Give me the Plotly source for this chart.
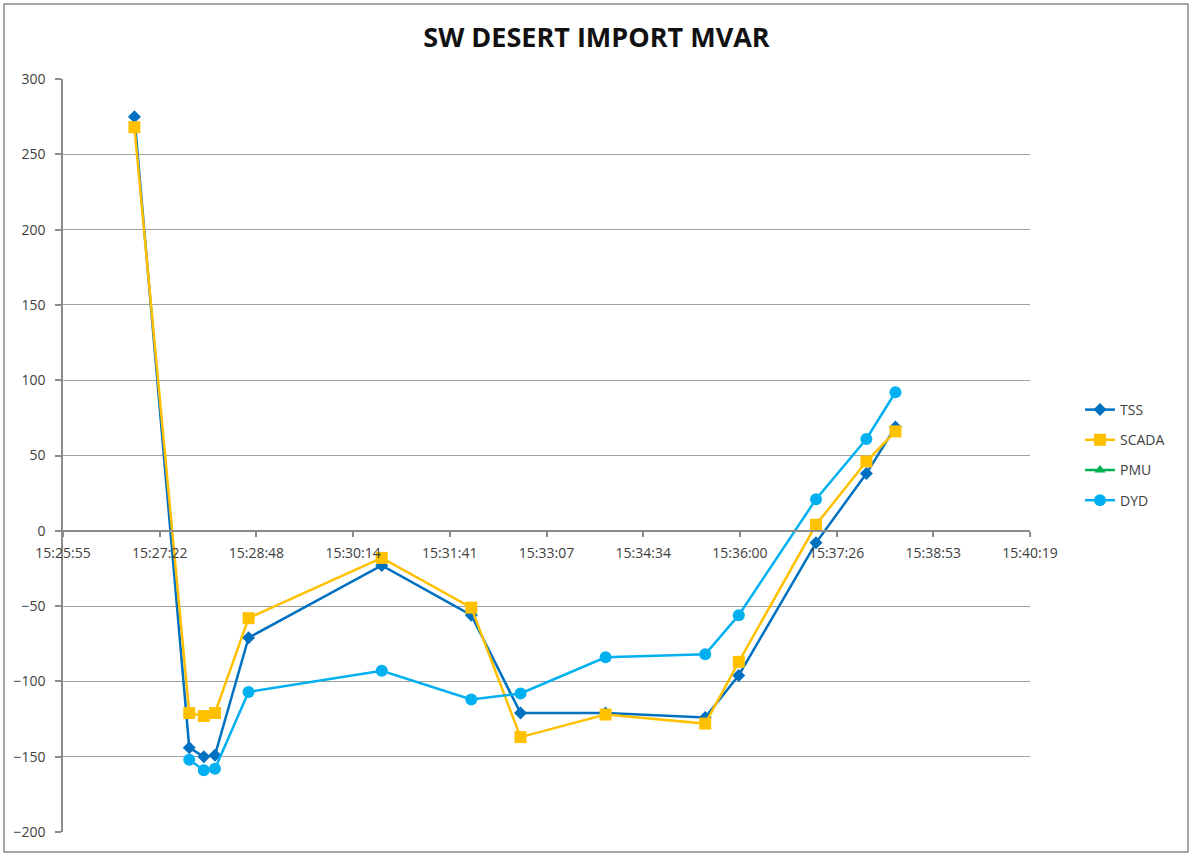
import plotly.graph_objects as go
import pandas as pd

# Sample times (hh:mm:ss) and the four MVAR series
times = ["15:26:59", "15:27:48", "15:28:01", "15:28:11", "15:28:41", "15:30:40", "15:32:00",
         "15:32:44", "15:34:00", "15:35:29", "15:35:59", "15:37:08", "15:37:53", "15:38:19"]
tss = [275, -144, -150, -149, -71, -23, -56, -121, -121, -124, -96, -8, 38, 69]
scada = [268, -121, -123, -121, -58, -18, -51, -137, -122, -128, -87, 4, 46, 66]
pmu = [None] * len(times)
dyd = [None, -152, -159, -158, -107, -93, -112, -108, -84, -82, -56, 21, 61, 92]

# Axis ticks (Excel style: 0.001-day major unit)
x_tick_labels = ["15:25:55", "15:27:22", "15:28:48", "15:30:14", "15:31:41", "15:33:07",
                 "15:34:34", "15:36:00", "15:37:26", "15:38:53", "15:40:19"]
y_ticks = [-200, -150, -100, -50, 0, 50, 100, 150, 200, 250, 300]

DAY = "2024-01-01 "
x_vals = [pd.Timestamp(DAY + t) for t in times]
axis_start = pd.Timestamp(DAY + "15:25:55.2")
step = pd.Timedelta(seconds=86.4)
tick_vals = [axis_start + k * step for k in range(len(x_tick_labels))]
x_range = [tick_vals[0], tick_vals[-1]]
y_range = [-200, 300]

FONT = "Open Sans"
GRID = "#a0a0a0"
AXIS = "#8c8c8c"
TICK_FONT = dict(family=FONT, size=14, color="#404040")

fig = go.Figure()
series = [
    ("TSS", tss, "#0070C0", "diamond", 10),
    ("SCADA", scada, "#FFC000", "square", 12),
    ("PMU", pmu, "#00B050", "triangle-up", 10),
    ("DYD", dyd, "#00B0F0", "circle", 12),
]
for name, vals, color, symbol, size in series:
    fig.add_trace(go.Scatter(
        x=x_vals, y=vals, name=name, mode="lines+markers",
        line=dict(color=color, width=2.5),
        marker=dict(symbol=symbol, size=size, color=color),
        legendgroup=name, connectgaps=False,
    ))

# Plot area in pixels
W, H = 1193, 856
L, R, T, B = 63, 1030, 79, 832

def px_x(p):
    return (p - L) / (R - L)

def px_y(p):
    return (B - p) / (B - T)

fig.update_layout(
    width=W, height=H,
    margin=dict(l=L, r=W - R, t=T, b=H - B, pad=0),
    paper_bgcolor="white", plot_bgcolor="white",
    font=dict(family=FONT, color="#404040", size=14),
    title=dict(text="<b>SW DESERT IMPORT MVAR</b>", x=0.5, xanchor="center",
               xref="container", y=1 - 38 / H, yref="container", yanchor="middle",
               font=dict(family=FONT, size=27, color="#111111")),
    showlegend=True,
    legend=dict(x=px_x(1080), xanchor="left", y=px_y(394), yanchor="top",
                traceorder="grouped", tracegroupgap=9,
                font=dict(family=FONT, size=14, color="#404040"),
                bgcolor="rgba(0,0,0,0)", itemwidth=30),
    xaxis=dict(
        type="date", range=x_range, tickmode="array", tickvals=tick_vals,
        ticktext=x_tick_labels, showgrid=False, zeroline=False,
        showline=True, linecolor=AXIS, linewidth=1.5,
        ticks="outside", ticklen=5, tickcolor=AXIS, tickwidth=1.5,
        ticklabelstandoff=5,
        anchor="free", position=(0 - y_range[0]) / (y_range[1] - y_range[0]),
        tickfont=TICK_FONT,
    ),
    yaxis=dict(
        range=y_range, tickmode="array", tickvals=y_ticks,
        showgrid=True, gridcolor=GRID, gridwidth=1.2, zeroline=False,
        showline=True, linecolor=AXIS, linewidth=1.5,
        ticks="outside", ticklen=6, tickcolor=AXIS, tickwidth=1.5,
        ticklabelstandoff=7,
        tickfont=TICK_FONT,
    ),
    shapes=[dict(type="rect", xref="paper", yref="paper",
                 x0=px_x(4), x1=px_x(1188), y0=px_y(852), y1=px_y(4),
                 line=dict(color="#8c8c8c", width=1.5), fillcolor="rgba(0,0,0,0)",
                 layer="below")],
)

fig.write_html("out.html")
